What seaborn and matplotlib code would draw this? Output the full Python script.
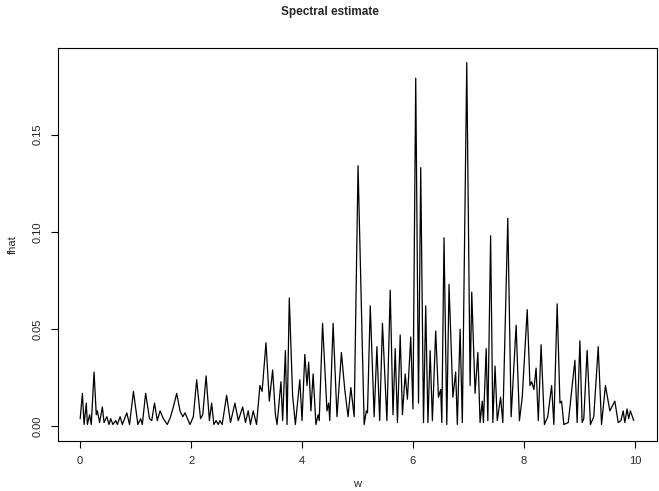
import numpy as np
import pandas as pd
import matplotlib
matplotlib.use("Agg")
import matplotlib.pyplot as plt
import seaborn as sns

# Frequencies and the smoothed spectral estimate at each turning point of the curve
w = [0.00, 0.04, 0.07, 0.11, 0.13, 0.17, 0.20, 0.25, 0.29, 0.31, 0.35, 0.40, 0.43, 0.48,
     0.52, 0.55, 0.59, 0.64, 0.67, 0.72, 0.76, 0.84, 0.89, 0.96, 1.04, 1.09, 1.12, 1.18,
     1.25, 1.29, 1.34, 1.39, 1.44, 1.50, 1.57, 1.63, 1.68, 1.74, 1.80, 1.85, 1.89, 1.98,
     2.04, 2.10, 2.17, 2.21, 2.27, 2.33, 2.37, 2.41, 2.45, 2.49, 2.52, 2.56, 2.64, 2.71,
     2.79, 2.85, 2.93, 2.98, 3.03, 3.07, 3.12, 3.18, 3.24, 3.28, 3.35, 3.41, 3.47, 3.52,
     3.55, 3.62, 3.65, 3.70, 3.73, 3.77, 3.83, 3.88, 3.96, 4.00, 4.05, 4.09, 4.12, 4.16,
     4.20, 4.25, 4.29, 4.31, 4.37, 4.45, 4.48, 4.50, 4.56, 4.63, 4.71, 4.77, 4.83, 4.88,
     4.94, 5.01, 5.12, 5.16, 5.18, 5.23, 5.30, 5.35, 5.40, 5.45, 5.53, 5.59, 5.64, 5.68,
     5.72, 5.77, 5.81, 5.86, 5.90, 5.96, 6.00, 6.05, 6.10, 6.14, 6.19, 6.23, 6.27, 6.31,
     6.35, 6.41, 6.46, 6.50, 6.52, 6.56, 6.61, 6.65, 6.72, 6.77, 6.80, 6.85, 6.89, 6.97,
     7.03, 7.06, 7.12, 7.17, 7.21, 7.25, 7.27, 7.32, 7.35, 7.40, 7.44, 7.48, 7.52, 7.58,
     7.62, 7.71, 7.77, 7.86, 7.92, 7.97, 8.06, 8.11, 8.14, 8.18, 8.22, 8.26, 8.31, 8.37,
     8.43, 8.50, 8.54, 8.60, 8.65, 8.68, 8.72, 8.80, 8.86, 8.92, 8.96, 9.01, 9.05, 9.08,
     9.14, 9.20, 9.26, 9.34, 9.40, 9.47, 9.55, 9.64, 9.70, 9.75, 9.79, 9.82, 9.86, 9.89,
     9.92, 9.98]

fhat = [0.004, 0.017, 0.001, 0.012, 0.001, 0.006, 0.001, 0.028, 0.006, 0.008, 0.002, 0.010,
        0.002, 0.005, 0.001, 0.004, 0.001, 0.003, 0.001, 0.005, 0.001, 0.007, 0.001, 0.018,
        0.001, 0.004, 0.001, 0.017, 0.004, 0.003, 0.012, 0.003, 0.008, 0.004, 0.001, 0.005,
        0.010, 0.017, 0.008, 0.005, 0.007, 0.001, 0.005, 0.024, 0.004, 0.006, 0.026, 0.003,
        0.012, 0.001, 0.003, 0.001, 0.003, 0.001, 0.016, 0.002, 0.012, 0.003, 0.010, 0.002,
        0.008, 0.001, 0.008, 0.001, 0.021, 0.018, 0.043, 0.013, 0.029, 0.006, 0.001, 0.023,
        0.003, 0.039, 0.001, 0.066, 0.016, 0.001, 0.024, 0.003, 0.037, 0.021, 0.033, 0.008,
        0.027, 0.001, 0.006, 0.003, 0.053, 0.008, 0.012, 0.003, 0.053, 0.005, 0.038, 0.019,
        0.005, 0.020, 0.005, 0.134, 0.001, 0.008, 0.007, 0.062, 0.005, 0.041, 0.003, 0.053,
        0.003, 0.070, 0.006, 0.040, 0.002, 0.047, 0.006, 0.027, 0.014, 0.046, 0.009, 0.179,
        0.012, 0.133, 0.002, 0.062, 0.002, 0.039, 0.003, 0.049, 0.015, 0.019, 0.002, 0.097,
        0.001, 0.073, 0.015, 0.028, 0.001, 0.050, 0.002, 0.187, 0.021, 0.069, 0.017, 0.038,
        0.002, 0.013, 0.002, 0.040, 0.003, 0.098, 0.002, 0.031, 0.003, 0.015, 0.002, 0.107,
        0.005, 0.052, 0.003, 0.015, 0.060, 0.021, 0.023, 0.019, 0.030, 0.003, 0.042, 0.001,
        0.005, 0.021, 0.001, 0.063, 0.012, 0.013, 0.001, 0.002, 0.018, 0.034, 0.002, 0.044,
        0.002, 0.004, 0.039, 0.001, 0.005, 0.041, 0.001, 0.021, 0.008, 0.013, 0.002, 0.003,
        0.008, 0.002, 0.009, 0.004, 0.008, 0.003]

x_ticks = [0, 2, 4, 6, 8, 10]
y_ticks = [0.00, 0.05, 0.10, 0.15]
y_tick_labels = ["0.00", "0.05", "0.10", "0.15"]

df = pd.DataFrame({"w": w, "fhat": fhat})

sns.set_style("white")
plt.rcParams["font.family"] = ["Liberation Sans", "DejaVu Sans"]

fig = plt.figure(figsize=(6.59, 4.91), dpi=100)
ax = fig.add_axes([58 / 659, 1 - 441 / 491, (657 - 58) / 659, (441 - 48) / 491])

sns.lineplot(data=df, x="w", y="fhat", color="black", linewidth=0.9,
             estimator=None, sort=False, ax=ax)

# base-graphics style 4% padding around the data range
ax.set_xlim(-0.04 * 10, 10 + 0.04 * 10)
ymax = max(fhat)
ax.set_ylim(-0.04 * ymax, 1.04 * ymax)

ax.set_xticks(x_ticks)
ax.set_xticklabels([str(t) for t in x_ticks], fontsize=8)
ax.set_yticks(y_ticks)
ax.set_yticklabels(y_tick_labels, fontsize=8, rotation=90, va="center")
ax.tick_params(axis="both", direction="out", length=5, width=0.8, color="black",
               bottom=True, left=True, pad=6)

for s in ax.spines.values():
    s.set_visible(True)
    s.set_color("black")
    s.set_linewidth(0.8)

ax.set_xlabel("w", fontsize=8, labelpad=9)
ax.set_ylabel("fhat", fontsize=8, labelpad=11)
fig.suptitle("Spectral estimate", fontsize=8.5, fontweight="bold", y=1 - 12 / 491, va="center")

fig.savefig("out.png", dpi=100)
